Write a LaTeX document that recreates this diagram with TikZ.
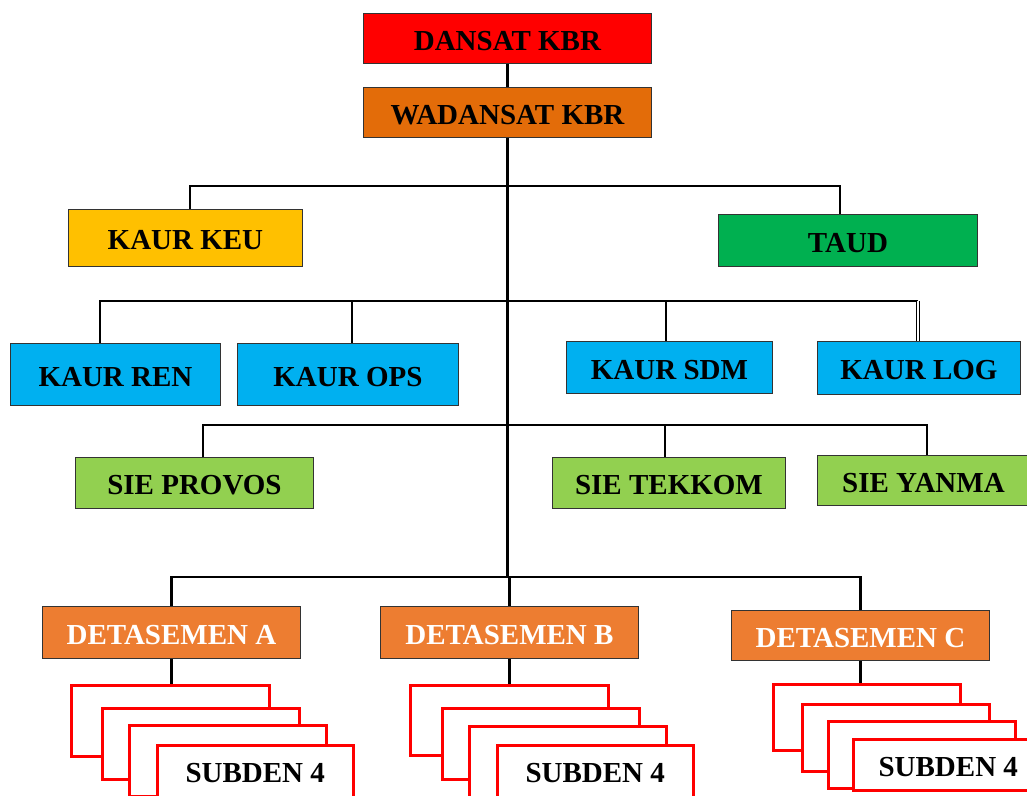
\documentclass[tikz,border=0pt]{standalone}
\usepackage{fontspec}
\setmainfont{Liberation Serif}
\usetikzlibrary{calc}
\definecolor{cRed}{HTML}{FF0000}
\definecolor{cWad}{HTML}{E36C09}
\definecolor{cKeu}{HTML}{FFC000}
\definecolor{cTaud}{HTML}{00B050}
\definecolor{cBlue}{HTML}{00B0F0}
\definecolor{cSie}{HTML}{92D050}
\definecolor{cDet}{HTML}{ED7D31}
\begin{document}
\begin{tikzpicture}[x=1pt,y=-1pt,
  box/.style={draw=black!80, line width=0.9pt, inner sep=0pt, anchor=north west,
    text height=24pt, text depth=0pt, font=\fontsize{29}{30}\selectfont\bfseries},
  conn/.style={line width=2.8pt, black},
  sub/.style={draw=cRed, line width=2.5pt, fill=white, anchor=north west, inner sep=0pt},
  lbl/.style={font=\fontsize{29}{30}\selectfont\bfseries, inner sep=0pt}]
\useasboundingbox (0,0) rectangle (1027,795);
\clip (0,0) rectangle (1027,795);
% top
\node[box, fill=cRed, minimum width=288pt, minimum height=50pt] (dan) at (363,13) {DANSAT KBR};
\node[box, fill=cWad, minimum width=288pt, minimum height=50pt] (wad) at (363,87) {WADANSAT KBR};
% level 1
\node[box, fill=cKeu, minimum width=234pt, minimum height=57pt] (keu) at (68,209) {KAUR KEU};
\node[box, fill=cTaud, minimum width=259pt, minimum height=52pt] (taud) at (718,214) {TAUD};
% level 2
\node[box, fill=cBlue, minimum width=210pt, minimum height=62pt] (ren) at (10,343) {KAUR REN};
\node[box, fill=cBlue, minimum width=221pt, minimum height=62pt] (ops) at (237,343) {KAUR OPS};
\node[box, fill=cBlue, minimum width=206pt, minimum height=52pt] (sdm) at (566,341) {KAUR SDM};
\node[box, fill=cBlue, minimum width=203pt, minimum height=53pt] (log) at (817,341) {KAUR LOG};
% level 3
\node[box, fill=cSie, minimum width=238pt, minimum height=51pt] (prov) at (75,457) {SIE PROVOS};
\node[box, fill=cSie, minimum width=233pt, minimum height=51pt] (tek) at (552,457) {SIE TEKKOM};
\node[box, fill=cSie, minimum width=212pt, minimum height=50pt] (yan) at (817,455) {SIE YANMA};
% detasemen
\node[box, fill=cDet, text=white, minimum width=258pt, minimum height=52pt] (detA) at (42,606) {DETASEMEN A};
\node[box, fill=cDet, text=white, minimum width=258pt, minimum height=52pt] (detB) at (380,606) {DETASEMEN B};
\node[box, fill=cDet, text=white, minimum width=258pt, minimum height=50pt] (detC) at (731,610) {DETASEMEN C};
% subden stacks A
\node[sub, minimum width=198pt, minimum height=71pt] (subA1) at (70,684) {};
\node[sub, minimum width=197pt, minimum height=71pt] (subA2) at (101,707) {};
\node[sub, minimum width=197pt, minimum height=71pt] (subA3) at (128,724) {};
\node[sub, minimum width=196pt, minimum height=71pt] (subA4) at (156,744) {};
\node[lbl] (tA) at ($(subA4.north)+(0,29)$) {SUBDEN 4};
% B
\node[sub, minimum width=198pt, minimum height=70pt] (subB1) at (409,684) {};
\node[sub, minimum width=197pt, minimum height=71pt] (subB2) at (441,707) {};
\node[sub, minimum width=197pt, minimum height=71pt] (subB3) at (468,725) {};
\node[sub, minimum width=196pt, minimum height=71pt] (subB4) at (496,744) {};
\node[lbl] (tB) at ($(subB4.north)+(0,29)$) {SUBDEN 4};
% C
\node[sub, minimum width=187pt, minimum height=66pt] (subC1) at (772,683) {};
\node[sub, minimum width=187pt, minimum height=67pt] (subC2) at (801,703) {};
\node[sub, minimum width=187pt, minimum height=67pt] (subC3) at (827,720) {};
\node[sub, minimum width=190pt, minimum height=51pt] (subC4) at (852,738) {};
\node[lbl] (tC) at ($(subC4.north)+(0,29)$) {SUBDEN 4};
% coordinates
\coordinate (b1l) at (190,186);
\coordinate (b1r) at (840,186);
\coordinate (b2l) at (100,301);
\coordinate (b2o) at (352,301);
\coordinate (b2s) at (666,301);
\coordinate (b2r) at (918,301);
\coordinate (b3l) at (203,425);
\coordinate (b3t) at (665,425);
\coordinate (b3r) at (927,425);
\coordinate (b4) at (508,577);
% connectors
\draw[conn] (dan.south) -- (wad.north);
\draw[conn] (wad.south) -- (wad.south |- b4);
\draw[conn] (keu.north -| b1l) -- (b1l) -- (b1r) -- (taud.north -| b1r);
\draw[conn] (ren.north -| b2l) -- (b2l) -- (b2r);
\draw[conn] (b2o) -- (ops.north -| b2o);
\draw[conn] (b2s) -- (sdm.north -| b2s);
\draw[black, line width=1pt, double=white, double distance=1.2pt] (b2r) -- (log.north -| b2r);
\draw[conn] (prov.north -| b3l) -- (b3l) -- (b3r) -- (yan.north -| b3r);
\draw[conn] (b3t) -- (tek.north -| b3t);
\draw[conn] (detA.north) -- (detA.north |- b4) -- (detC.north |- b4) -- (detC.north);
\draw[conn] (detB.north |- b4) -- (detB.north);
\draw[conn] (detA.south) -- (detA.south |- subA1.north);
\draw[conn] (detB.south) -- (detB.south |- subB1.north);
\draw[conn] (detC.south) -- (detC.south |- subC1.north);
\end{tikzpicture}
\end{document}
